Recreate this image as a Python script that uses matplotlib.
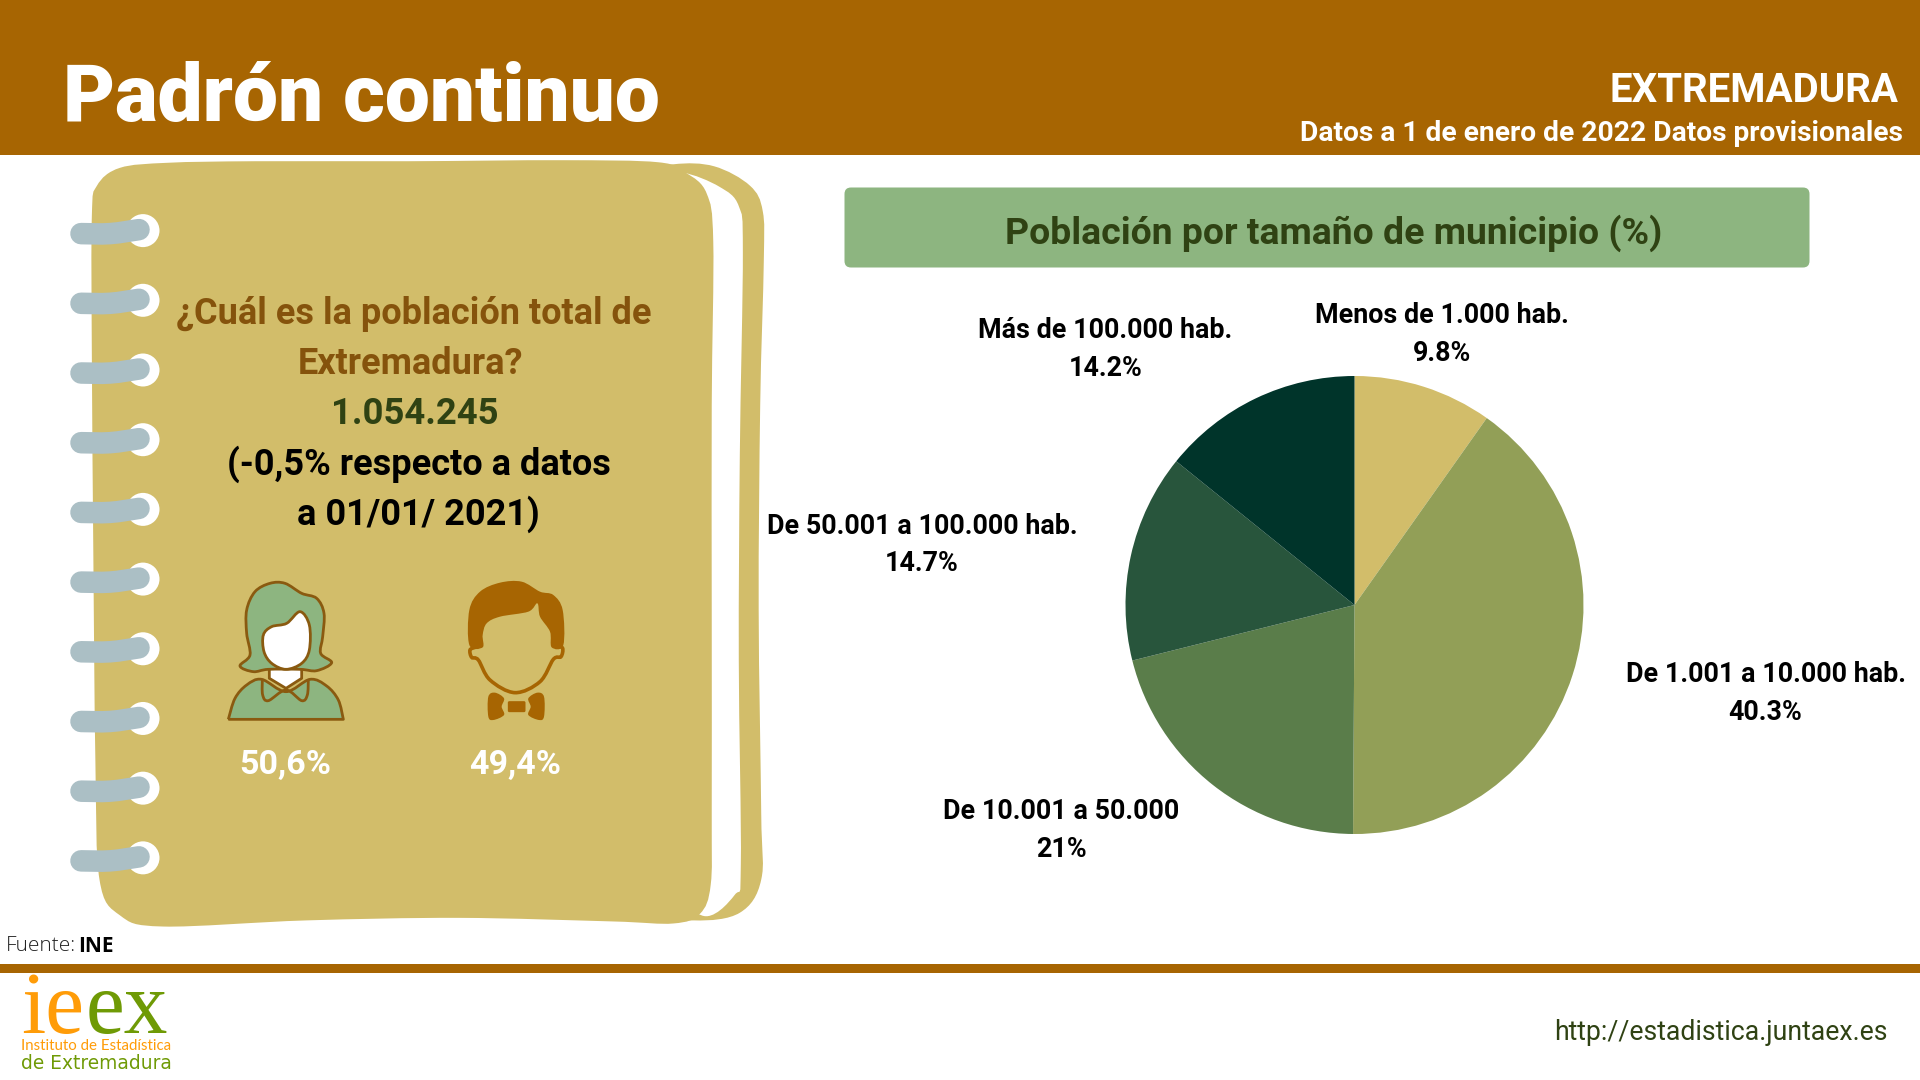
import numpy as np
import matplotlib
matplotlib.use("Agg")
import matplotlib.pyplot as plt
from matplotlib.path import Path
from matplotlib.patches import PathPatch, Circle, Rectangle, FancyBboxPatch

plt.rcParams['font.family'] = ['Roboto', 'DejaVu Sans']

# ---- datos ----
tamanos = ["Menos de 1.000 hab.", "De 1.001 a 10.000 hab.", "De 10.001 a 50.000",
           "De 50.001 a 100.000 hab.", "Más de 100.000 hab."]
porcentajes = [9.8, 40.3, 21, 14.7, 14.2]
colores_pie = ["#D2BD6A", "#929F57", "#5A7D4A", "#28553C", "#00342A"]
mujeres_hombres = ["50,6%", "49,4%"]

MARRON = "#A76502"
ARENA = "#D2BD6A"
VERDE = "#8DB580"
TRAZO = "#8A5A10"
OSCURO = "#2F4213"
GRIS_ANILLA = "#ABBFC5"


def curva(pts, cerrada=True):
    # Catmull-Rom a bezier, para las formas dibujadas a mano
    pts = np.array(pts, dtype=float)
    n = len(pts)
    verts = [pts[0]]
    codes = [Path.MOVETO]
    tramos = n if cerrada else n - 1
    for i in range(tramos):
        if cerrada:
            p0, p1, p2, p3 = pts[(i - 1) % n], pts[i], pts[(i + 1) % n], pts[(i + 2) % n]
        else:
            p0, p1, p2, p3 = pts[max(i - 1, 0)], pts[i], pts[i + 1], pts[min(i + 2, n - 1)]
        verts += [p1 + (p2 - p0) / 6, p2 - (p3 - p1) / 6, p2]
        codes += [Path.CURVE4] * 3
    return Path(verts, codes)


def z1(pts):
    # coordenadas del recorte del cuaderno
    return [(x / 1.96, 150 + y / 1.96) for x, y in pts]


def z3(pts):
    # coordenadas del recorte de los iconos
    return [(200 + x / 3, 560 + y / 3) for x, y in pts]


fig = plt.figure(figsize=(19.2, 10.8), dpi=100)
ax = fig.add_axes([0, 0, 1, 1])
ax.set_xlim(0, 1920)
ax.set_ylim(1080, 0)
ax.axis("off")

# bandas
ax.add_patch(Rectangle((0, 0), 1920, 155, color=MARRON, lw=0))
ax.add_patch(Rectangle((0, 964), 1920, 9, color=MARRON, lw=0))

# cuaderno
trasera = [(1150, 120), (1230, 50), (1320, 28), (1400, 32), (1470, 70), (1495, 120), (1497, 220), (1490, 500),
           (1487, 900), (1492, 1300), (1492, 1430), (1450, 1495), (1360, 1510), (1250, 1490), (1180, 1300), (1130, 800)]
hoja = [(1340, 45), (1410, 72), (1448, 110), (1456, 200), (1450, 600), (1448, 1000), (1452, 1400),
        (1440, 1460), (1375, 1500), (1300, 1400), (1300, 1000), (1300, 500), (1300, 180), (1300, 60)]
tapa = [(180, 130), (190, 70), (235, 35), (330, 25), (500, 22), (800, 22), (1100, 20), (1290, 24),
        (1345, 45), (1385, 85), (1398, 180), (1395, 500), (1395, 900), (1395, 1300), (1393, 1440), (1372, 1497),
        (1320, 1516), (1200, 1512), (900, 1505), (600, 1510), (320, 1522), (235, 1500), (195, 1430), (187, 1200),
        (183, 800), (180, 400)]
ax.add_patch(PathPatch(curva(z1(trasera)), fc=ARENA, ec="none"))
ax.add_patch(PathPatch(curva(z1(hoja)), fc="white", ec="none"))
ax.add_patch(PathPatch(curva(z1(tapa)), fc=ARENA, ec="none"))

# anillas
for i in range(10):
    yc = 150 + (158 + i * 136.6) / 1.96
    ax.add_patch(Circle((143, yc), 16.5, fc="white", ec="none"))
    ax.add_patch(PathPatch(curva([(81, yc + 3), (110, yc + 3), (139, yc - 1)], cerrada=False),
                           fc="none", ec=GRIS_ANILLA, lw=15.5, capstyle="round"))

# icono mujer
pelo = [(140, 150), (165, 95), (210, 70), (255, 70), (305, 100), (350, 115), (372, 160), (368, 230),
        (362, 280), (395, 308), (350, 332), (300, 328), (205, 328), (160, 335), (120, 318), (150, 285), (140, 220)]
cara = [(190, 225), (215, 200), (260, 190), (300, 155), (328, 195), (328, 270), (305, 310), (258, 328),
        (215, 310), (192, 275)]
hombros = [(105, 415), (140, 375), (185, 358), (258, 395), (330, 358), (380, 378), (415, 420), (430, 478)]
cuello = [(208, 325), (305, 325), (305, 355), (258, 385), (208, 355)]
cuello_camisa = [(187, 358), (188, 405), (205, 422), (258, 390), (305, 422), (322, 405), (325, 358)]
est = dict(ec=TRAZO, lw=2.0, joinstyle="round")
ax.add_patch(PathPatch(Path(z3(cuello + cuello[:1])), fc="white", **est))
cuerpo = curva(z3([(85, 478)] + hombros), cerrada=False)
ax.add_patch(PathPatch(Path(list(cuerpo.vertices) + z3([(85, 478)]), list(cuerpo.codes) + [Path.LINETO]),
                       fc=VERDE, **est))
ax.add_patch(PathPatch(curva(z3(cuello_camisa), cerrada=False), fc="none", **est))
ax.add_patch(PathPatch(curva(z3(pelo)), fc=VERDE, **est))
ax.add_patch(PathPatch(curva(z3(cara)), fc="white", **est))

# icono hombre
pelo_h = [(808, 255), (808, 150), (840, 95), (900, 68), (965, 65), (1020, 95), (1060, 105), (1088, 150),
          (1090, 255), (1055, 262), (1050, 215), (1020, 170), (1012, 130), (985, 155), (900, 170),
          (860, 190), (848, 225), (848, 262)]
cara_h = [(825, 262), (810, 270), (815, 292), (835, 300), (870, 360), (945, 398), (1020, 365),
          (1060, 298), (1083, 290), (1088, 265), (1072, 258)]
ala_izq = [(865, 410), (885, 398), (912, 415), (905, 440), (912, 465), (880, 480), (865, 470)]
ala_der = [(1032, 410), (1012, 398), (985, 415), (992, 440), (985, 465), (1017, 480), (1032, 470)]
ax.add_patch(PathPatch(curva(z3(pelo_h)), fc=MARRON, ec="none"))
ax.add_patch(PathPatch(curva(z3(cara_h), cerrada=False), fc="none", ec=MARRON, lw=2.6))
ax.add_patch(PathPatch(curva(z3(ala_izq)), fc=MARRON, ec="none"))
ax.add_patch(PathPatch(curva(z3(ala_der)), fc=MARRON, ec="none"))
ax.add_patch(FancyBboxPatch((200 + 928 / 3, 560 + 428 / 3), 44 / 3, 24 / 3, boxstyle="round,pad=1.5",
                            fc=MARRON, ec="none"))

# caja titulo del grafico
ax.add_patch(FancyBboxPatch((851, 194), 952, 67, boxstyle="round,pad=6.5", fc=VERDE, ec="none"))

# textos
ax.text(63, 99, "Padrón continuo", fontsize=57.7, fontweight="black", color="white", va="center")
ax.text(1899, 91, "EXTREMADURA", fontsize=29, fontweight="bold", color="white", va="center", ha="right")
ax.text(1903, 133.5, "Datos a 1 de enero de 2022 Datos provisionales", fontsize=20.25, fontweight="bold",
        color="white", va="center", ha="right")
ax.text(1333.5, 233, "Población por tamaño de municipio (%)", fontsize=26.9, fontweight="bold", color=OSCURO,
        va="center", ha="center")

ax.text(414, 314, "¿Cuál es la población total de", fontsize=26, fontweight="bold", color="#85530C",
        va="center", ha="center")
ax.text(410, 364, "Extremadura?", fontsize=26, fontweight="bold", color="#85530C", va="center", ha="center")
ax.text(414.5, 414, "1.054.245", fontsize=26.3, fontweight="bold", color=OSCURO, va="center", ha="center")
ax.text(419, 464, "(-0,5% respecto a datos", fontsize=26, fontweight="bold", color="black", va="center", ha="center")
ax.text(418, 514, "a 01/01/ 2021)", fontsize=26, fontweight="bold", color="black", va="center", ha="center")
ax.text(285.5, 765, mujeres_hombres[0], fontsize=24.5, fontweight="bold", color="white", va="center", ha="center")
ax.text(515.5, 765, mujeres_hombres[1], fontsize=24.5, fontweight="bold", color="white", va="center", ha="center")

ax.text(6, 946, "Fuente:", fontsize=15, family="Open Sans", fontweight="light", color="#222222", va="center")
ax.text(78, 946, "INE", fontsize=15, family="Open Sans", fontweight="bold", color="black", va="center")
ax.text(1888, 1033, "http://estadistica.juntaex.es", fontsize=19.2, color=OSCURO, va="center", ha="right")

# logo
ax.text(21, 1033, "ie", fontsize=63, family="Liberation Serif", color="#FF9C08", va="baseline")
ax.text(86, 1033, "ex", fontsize=63, family="Liberation Serif", color="#6F9A05", va="baseline")
ax.text(21, 1050, "Instituto de Estadística", fontsize=10.8, family="Lato", color="#FF9C08", va="baseline")
ax.text(21, 1069, "de Extremadura", fontsize=13.4, family="DejaVu Sans", color="#6F9A05", va="baseline")

# etiquetas del pie
pos_etiquetas = [(1441.5, 334.5), (1765.5, 693.5), (1061, 830.5), (922, 545), (1105.5, 349.5)]
for nombre, valor, (xt, yt) in zip(tamanos, porcentajes, pos_etiquetas):
    ax.text(xt, yt, f"{nombre}\n{valor:g}%", fontsize=19.35, fontweight="bold", color="black",
            ha="center", va="center", linespacing=1.5)

# pie
cx, cy, r = 1354.5, 605, 229
ax_pie = fig.add_axes([(cx - r) / 1920, 1 - (cy + r) / 1080, 2 * r / 1920, 2 * r / 1080])
ax_pie.pie(porcentajes, colors=colores_pie, startangle=90, counterclock=False, radius=1)
ax_pie.set_xlim(-1, 1)
ax_pie.set_ylim(-1, 1)

fig.savefig("out.png", dpi=100)
